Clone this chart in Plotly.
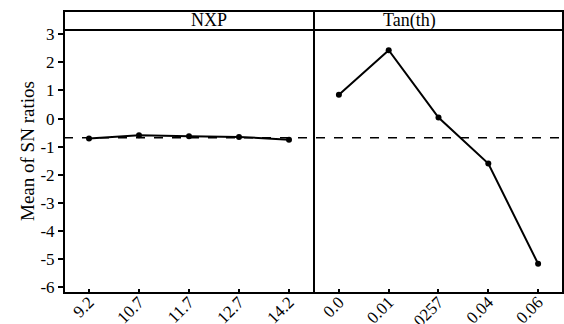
import plotly.graph_objects as go

# Data
nxp_labels = ["9.2", "10.7", "11.7", "12.7", "14.2"]
nxp_values = [-0.71, -0.59, -0.63, -0.65, -0.75]
tan_labels = ["0.0", "0.01", "0.0257", "0.04", "0.06"]
tan_values = [0.85, 2.43, 0.04, -1.60, -5.16]
mean_sn = -0.68
panel_titles = ["NXP", "Tan(th)"]
y_ticks = [3, 2, 1, 0, -1, -2, -3, -4, -5, -6]

FONT = "Liberation Serif, Times New Roman, serif"
split = 0.501
hdr = 19 / 263
W_PLOT = 499

fig = go.Figure()
fig.add_trace(go.Scatter(x=nxp_labels, y=nxp_values, mode="lines+markers",
                         line=dict(color="black", width=2), marker=dict(color="black", size=6),
                         xaxis="x", yaxis="y", showlegend=False))
fig.add_trace(go.Scatter(x=tan_labels, y=tan_values, mode="lines+markers",
                         line=dict(color="black", width=2), marker=dict(color="black", size=6),
                         xaxis="x2", yaxis="y", showlegend=False))

common_x = dict(type="category", range=[-0.5, 4.5], showgrid=False, zeroline=False,
                ticks="inside", ticklen=4, tickwidth=1.5, tickcolor="black",
                tickangle=-45, tickfont=dict(family=FONT, size=17, color="black"),
                ticklabelstandoff=-5,
                showline=False, automargin=False, fixedrange=True)
fig.update_layout(
    width=564, height=324,
    margin=dict(l=64, r=1, t=30, b=31),
    plot_bgcolor="white", paper_bgcolor="white",
    xaxis=dict(domain=[0, split], **common_x),
    xaxis2=dict(domain=[split, 1], anchor="y", **common_x),
    yaxis=dict(range=[-6.2, 3.15], tickvals=y_ticks, ticktext=[str(v) for v in y_ticks],
               ticks="outside", ticklen=5, tickwidth=1.5, tickcolor="black",
               showgrid=False, zeroline=False, showline=False,
               tickfont=dict(family=FONT, size=17, color="black"),
               automargin=False, fixedrange=True),
)

# Y axis title
fig.add_annotation(text="Mean of SN ratios", xref="paper", yref="paper",
                   x=-(64 - 27) / W_PLOT, y=(293 - 151) / 263, textangle=-90, showarrow=False,
                   xanchor="center", yanchor="middle",
                   font=dict(family=FONT, size=19, color="black"))

# Mean reference line
fig.add_shape(type="line", xref="paper", yref="y", x0=0, x1=1, y0=mean_sn, y1=mean_sn,
              line=dict(color="black", width=1.3, dash="dash"))

# Frame and header
lw = 2
fig.add_shape(type="rect", xref="paper", yref="paper", x0=0, x1=1, y0=0, y1=1 + hdr,
              line=dict(color="black", width=lw))
fig.add_shape(type="line", xref="paper", yref="paper", x0=0, x1=1, y0=1, y1=1,
              line=dict(color="black", width=lw))
fig.add_shape(type="line", xref="paper", yref="paper", x0=split, x1=split, y0=0, y1=1 + hdr,
              line=dict(color="black", width=lw))

for i, t in enumerate(panel_titles):
    cx = split / 2 if i == 0 else (split + 1) / 2
    fig.add_annotation(text=t, xref="paper", yref="paper", x=cx, y=1 + hdr / 2,
                       showarrow=False, yanchor="middle",
                       font=dict(family=FONT, size=18, color="black"))

fig.write_html("out.html")
